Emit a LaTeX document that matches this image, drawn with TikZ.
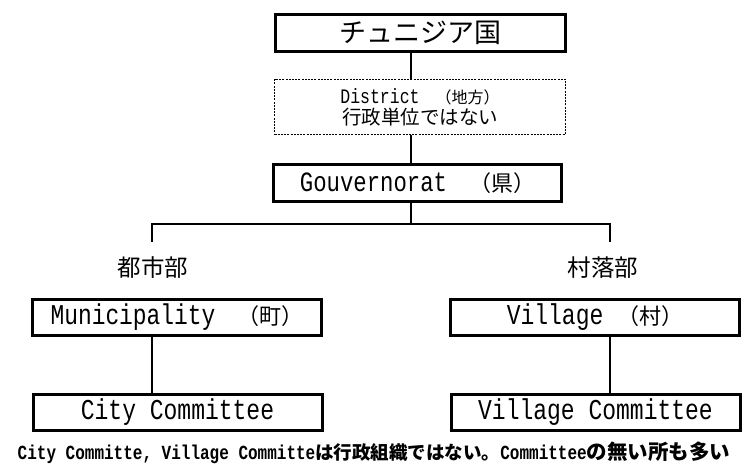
\documentclass[tikz,border=0pt]{standalone}
\usepackage{fontspec}
\newfontfamily\jp{Noto Sans CJK JP}
\newfontfamily\lat{Liberation Mono}
\newcommand\LA[2]{{\lat\fontsize{#1}{#1}\selectfont\scalebox{1}[1.25]{#2}}}
\newcommand\JA[2]{{\jp\fontsize{#1}{#1}\selectfont #2}}
\begin{document}
\begin{tikzpicture}[x=1pt,y=-1pt,
  box/.style={draw=black, line width=3pt, fill=white, inner sep=0pt, minimum width=289pt, minimum height=36pt},
  dbox/.style={draw=black, line width=1pt, dash pattern=on 2pt off 1.2pt, inner sep=0pt, minimum width=291pt, minimum height=55pt, align=center, font=\fontsize{18}{21}\selectfont},
  conn/.style={draw=black, line width=1.5pt},
  lbl/.style={inner sep=0pt}]
\useasboundingbox[fill=white] (0,0) rectangle (748,468);

\node[box, minimum width=290pt, minimum height=37pt] (top) at (420.5,33) {\JA{27}{チュニジア国}};
\node[dbox] (dist) at (420,107) {\LA{16.5}{District}\JA{16}{　（地方）}\\\JA{19.5}{行政単位ではない}};
\node[box, minimum width=288pt, minimum height=37pt] (gouv) at (417.5,183) {\LA{22.3}{Gouvernorat}\JA{22}{　（県）}\hspace{22pt}};

\coordinate (s) at (411,0);
\coordinate (j) at (411,224);
\coordinate (bl) at (152,242);
\coordinate (br) at (610,242);

\draw[conn] (top.south -| s) -- (dist.north -| s);
\draw[conn] (dist.south -| s) -- (gouv.north -| s);
\draw[conn] (gouv.south -| j) -- (j);
\draw[conn] (bl) |- (j) -| (br);

\node[lbl] (urb) at (153,268) {\JA{23.5}{都市部}};
\node[lbl] (rur) at (603,268) {\JA{23.5}{村落部}};

\node[box] (muni) at (177,317.5) {\LA{22.9}{Municipality}\JA{22}{　（町）}\hspace{22pt}};
\node[box] (city) at (177.5,412.5) {\LA{23}{City Committee}\hspace{4pt}};
\node[box] (vil) at (595,317.5) {\LA{23}{Village }\JA{22}{（村）}\hspace{26pt}};
\node[box] (vcom) at (595.5,412.5) {\LA{23}{Village Committee}\hspace{11pt}};

\draw[conn] (muni.south -| bl) -- (city.north -| bl);
\draw[conn] (vil.south -| br) -- (vcom.north -| br);

\node[lbl] (cap) at (374,453) {\bfseries\LA{16}{City Committe, Village Committe}\JA{18.5}{は行政組織ではない。}\LA{16}{Committee}\JA{20.5}{の無い所も多い}};
\end{tikzpicture}
\end{document}
